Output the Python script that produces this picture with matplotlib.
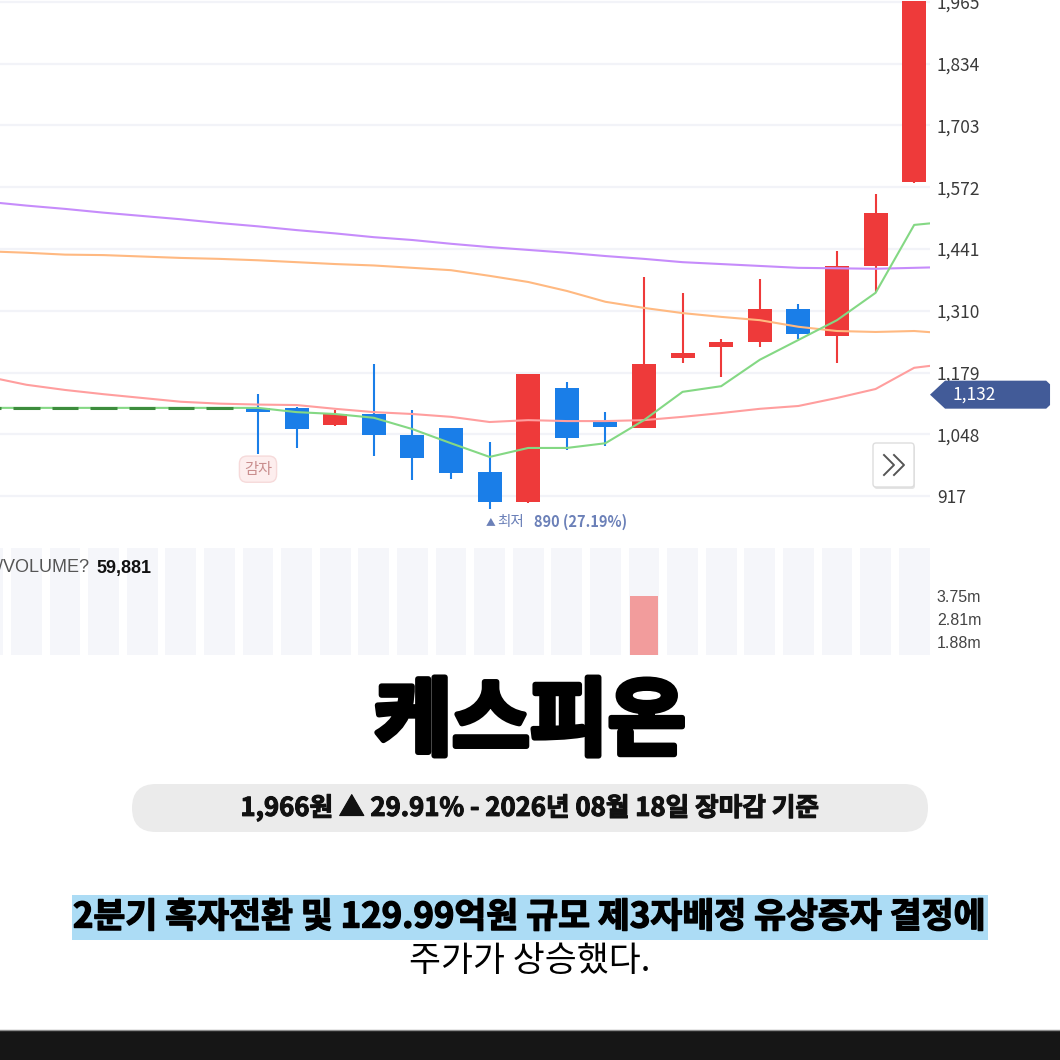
import matplotlib
matplotlib.use("Agg")
import matplotlib.pyplot as plt
import matplotlib.patheffects as pe
from matplotlib.patches import FancyBboxPatch, Polygon, Rectangle
from matplotlib.lines import Line2D

plt.rcParams['font.family'] = ['Noto Sans CJK KR', 'DejaVu Sans']

# day 0 = first candle after the trading halt
halt_days = [-7, -6, -5, -4, -3, -2, -1]
halt_price = 1104

candle_days = list(range(18))
opens = [1104, 1104, 1068, 1091, 1046, 1061, 968, 904, 1146, 1074,
         1061, 1210, 1233, 1244, 1314, 1256, 1405, 1583]
highs = [1133, 1106, 1100, 1197, 1100, 1061, 1032, 1176, 1159, 1095,
         1382, 1348, 1250, 1377, 1324, 1437, 1558, 1966]
lows = [1006, 1019, 1066, 1002, 951, 953, 890, 902, 1015, 1023,
        1061, 1199, 1170, 1233, 1250, 1199, 1350, 1580]
closes = [1096, 1059, 1091, 1046, 998, 966, 904, 1176, 1040, 1063,
          1197, 1220, 1244, 1314, 1261, 1405, 1517, 1966]

ma_days = list(range(-7, 19))
ma5 = [1104, 1104, 1104, 1104, 1104, 1104, 1104, 1104, 1095, 1091, 1083, 1059, 1029,
       1000, 1019, 1019, 1029, 1078, 1138, 1150, 1206, 1248, 1290, 1348, 1492, 1500]
ma20 = [1170, 1153, 1142, 1133, 1125, 1117, 1113, 1111, 1110, 1102, 1095, 1091, 1085,
        1074, 1078, 1076, 1076, 1078, 1085, 1093, 1102, 1108, 1125, 1144, 1189, 1199]
ma60 = [1436, 1433, 1429, 1428, 1425, 1422, 1420, 1417, 1413, 1409, 1406, 1401, 1396,
        1384, 1371, 1352, 1329, 1316, 1305, 1297, 1290, 1276, 1267, 1265, 1267, 1261]
ma120 = [1541, 1533, 1526, 1518, 1511, 1504, 1496, 1489, 1481, 1474, 1466, 1460, 1452,
         1445, 1439, 1433, 1426, 1420, 1413, 1409, 1405, 1401, 1400, 1399, 1401, 1403]

# volume in millions (only day 10 rises into the visible part of the panel)
vol_days = list(range(18))
volumes = [0.42, 0.18, 0.09, 0.35, 0.28, 0.31, 0.55, 1.1, 0.46, 0.12,
           3.75, 0.66, 0.21, 0.38, 0.17, 0.52, 0.74, 0.06]
last_volume = '59,881'

price_ticks = [917, 1048, 1179, 1310, 1441, 1572, 1703, 1834, 1965]
vol_ticks = [1.88, 2.81, 3.75]
vol_labels = ['1.88m', '2.81m', '3.75m']
tag_price = 1132
low_day, low_price, low_pct = 6, 890, '27.19%'

UP = '#ee3a3a'
DOWN = '#1a7ee8'
W = 1060


def fx(px):
    return px / W


def fy(py):
    return 1 - py / W


def heavy(w, col='black'):
    return [pe.withStroke(linewidth=w, foreground=col)]


fig = plt.figure(figsize=(10.6, 10.6), dpi=100)
fig.patch.set_facecolor('white')

# ---- price panel
ax = fig.add_axes([0, fy(530), fx(930), 530 / W])
ax.set_xlim(-6.684, 17.41)
ax.set_ylim(845, 1969)
for t in price_ticks:
    ax.axhline(t, color='#f2f3f8', lw=1.6, zorder=0)

for d, o, h, l, c in zip(candle_days, opens, highs, lows, closes):
    col = UP if c >= o else DOWN
    ax.vlines(d, l, h, color=col, lw=1.5, zorder=2)
    ax.bar(d, max(abs(c - o), 6), bottom=min(o, c), width=0.62, color=col, zorder=3)

ax.plot(ma_days, ma120, color='#c68cfb', lw=1.5, zorder=4)
ax.plot(ma_days, ma60, color='#ffb981', lw=1.5, zorder=4)
ax.plot(ma_days, ma20, color='#ff9e9e', lw=1.5, zorder=4)
ax.plot(ma_days, ma5, color='#84d884', lw=1.5, zorder=4)
ax.hlines([halt_price] * len(halt_days), [d - 0.34 for d in halt_days],
          [d + 0.34 for d in halt_days], color='#3d8c3d', lw=2.2, zorder=5)

ax.yaxis.tick_right()
ax.set_yticks(price_ticks)
ax.set_yticklabels([f'{t:,}' for t in price_ticks], fontsize=12.5, color='#3a3a3a')
ax.tick_params(axis='y', length=0, pad=5)
ax.set_xticks([])
for s in ax.spines.values():
    s.set_visible(False)
ax.patch.set_alpha(0)

ax.text(0, 974, '감자', ha='center', va='center', fontsize=11, color='#c98e8e', zorder=6,
        bbox=dict(boxstyle='round,pad=0.3,rounding_size=0.5', fc='#fdeeee', ec='#f6dada', lw=1))
ax.text(low_day - 0.09, 862, '▲', fontsize=7, color='#6b80b8', ha='left', va='center')
ax.text(low_day + 0.2, 862, '최저', fontsize=10.5, color='#6b80b8', ha='left', va='center')
ax.text(low_day + 1.15, 862, f'{low_price} ({low_pct})', fontsize=10.5, color='#6b80b8',
        ha='left', va='center', weight='bold')

# current price tag on the right axis
tag = Polygon([(17.41, tag_price), (17.80, tag_price + 29.7), (20.42, tag_price + 29.7),
               (20.52, tag_price + 22), (20.52, tag_price - 22), (20.42, tag_price - 29.7),
               (17.80, tag_price - 29.7)], closed=True, fc='#425b98', ec='none', clip_on=False, zorder=6)
ax.add_patch(tag)
ax.text(18.0, tag_price, f'{tag_price:,}', color='white', fontsize=12.5, ha='left', va='center',
        clip_on=False, zorder=7)

# scroll button
fig.add_artist(FancyBboxPatch((fx(874), fy(489)), fx(41), 44 / W, transform=fig.transFigure,
                              boxstyle='round,pad=0,rounding_size=0.003', fc='#e4e4e4', ec='none'))
fig.add_artist(FancyBboxPatch((fx(873), fy(487)), fx(41), 44 / W, transform=fig.transFigure,
                              boxstyle='round,pad=0,rounding_size=0.003', fc='white', ec='#dddddd', lw=1))
for x0 in (884, 894):
    fig.add_artist(Line2D([fx(x0), fx(x0 + 10), fx(x0)], [fy(455), fy(465), fy(475)],
                          transform=fig.transFigure, color='#555555', lw=1.4))

# ---- volume panel
ax2 = fig.add_axes([0, fy(655), fx(930), 107 / W])
ax2.set_xlim(-6.684, 17.41)
ax2.set_ylim(1.35, 5.70)
for d in range(-7, 18):
    ax2.axvspan(d - 0.4, d + 0.4, color='#f5f6fa', lw=0, zorder=0)
ax2.bar(vol_days, volumes, width=0.73, color='#f29c9c', zorder=2)
ax2.yaxis.tick_right()
ax2.set_yticks(vol_ticks)
ax2.set_yticklabels(vol_labels, fontsize=11.5, color='#444444', family='Liberation Sans')
ax2.tick_params(axis='y', length=0, pad=5)
ax2.set_xticks([])
for s in ax2.spines.values():
    s.set_visible(False)
ax2.patch.set_alpha(0)

fig.text(fx(-2.5), fy(568), '/VOLUME?', family='Liberation Sans', fontsize=13,
         color='#555555', va='center', ha='left')
fig.text(fx(96), fy(568), last_volume, family='Liberation Sans', fontsize=13,
         color='#111111', va='center', ha='left', weight='bold')

# ---- headline block
fig.text(0.5, fy(723), '케스피온', ha='center', va='center', fontsize=61, weight='black',
         color='black', path_effects=heavy(4))
fig.add_artist(FancyBboxPatch((fx(132), fy(832)), fx(796), 48 / W, transform=fig.transFigure,
                              boxstyle='round,pad=0,rounding_size=0.0226', fc='#ebebeb', ec='none'))
fig.text(0.5, fy(808), '1,966원 ▲ 29.91% - 2026년 08월 18일 장마감 기준', ha='center',
         va='center', fontsize=18.5, weight='bold', color='#111111',
         path_effects=heavy(0.8, '#111111'))

fig.add_artist(Rectangle((fx(72), fy(940)), fx(916), 45 / W, transform=fig.transFigure,
                         fc='#acdcf5', ec='none'))
fig.text(0.5, fy(917), '2분기 흑자전환 및 129.99억원 규모 제3자배정 유상증자 결정에',
         ha='center', va='center', fontsize=25, weight='bold', color='black',
         path_effects=heavy(1))
fig.text(0.5, fy(962), '주가가 상승했다.', ha='center', va='center', fontsize=25,
         weight='medium', color='black')

# bottom bar
fig.add_artist(Rectangle((0, 0), 1, 30 / W, transform=fig.transFigure, fc='#161616', ec='none'))
fig.add_artist(Line2D([0, 1], [fy(1030), fy(1030)], transform=fig.transFigure,
                      color='#8c8c8c', lw=1))

fig.savefig('out.png', dpi=100)
